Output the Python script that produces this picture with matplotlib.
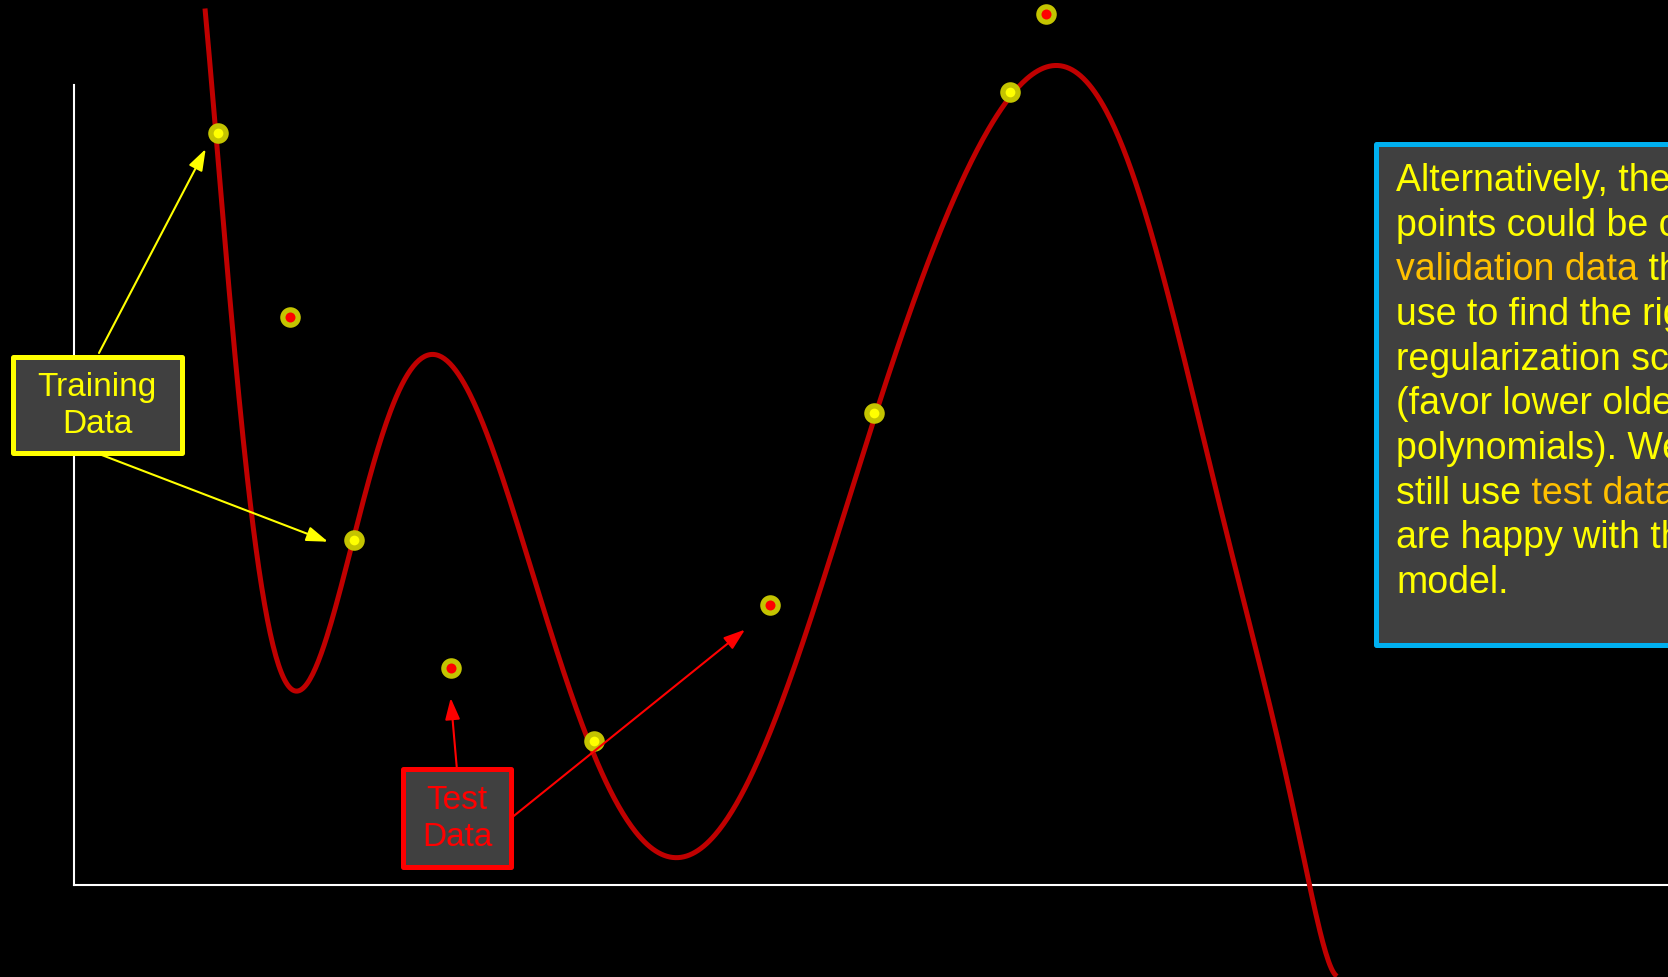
import numpy as np
import matplotlib
matplotlib.use("Agg")
import matplotlib.pyplot as plt
from matplotlib.patches import Rectangle

plt.rcParams['font.family'] = ['Liberation Sans', 'DejaVu Sans']

# training points (yellow centre) and held-out test points (red centre)
train_x = [1.44, 2.80, 5.20, 8.00, 9.36]
train_y = [7.52, 3.45, 1.44, 4.72, 7.93]
test_x = [2.16, 3.77, 6.96, 9.72]
test_y = [5.68, 2.17, 2.80, 8.71]

# points
curve_x = [1.31, 1.44, 1.51, 1.58, 1.69, 1.78, 1.88, 2.03, 2.25, 2.49, 2.63,
           2.80, 2.96, 3.16, 3.36, 3.57, 3.83, 4.09, 4.34, 4.76, 5.20, 5.59,
           6.06, 6.59, 7.26, 7.76, 8.00, 8.66, 8.99, 9.36, 9.73, 10.16, 10.49,
           10.83, 11.06, 11.33, 11.73, 12.36, 12.63]
curve_y = [8.75, 7.52, 6.10, 5.55, 4.55, 3.75, 3.02, 2.35, 1.93, 2.35, 2.88,
           3.44, 4.15, 4.72, 5.15, 5.31, 5.15, 4.55, 3.75, 2.60, 1.44, 0.60,
           0.27, 0.60, 2.60, 3.77, 4.72, 6.42, 7.25, 7.92, 8.19, 7.95, 7.28,
           6.28, 5.45, 4.45, 2.62, 0.00, -0.92]
# turning points of the curve (indices above) get more weight in the fit
turning = [8, 15, 22, 30]

# note text, one entry per line: (words, highlighted?)
note_lines = [
    [("Alternatively, these", False)],
    [("points could be called", False)],
    [("validation data", True), (" that we", False)],
    [("use to find the right", False)],
    [("regularization scheme", False)],
    [("(favor lower older", False)],
    [("polynomials). We", False)],
    [("still use", False), (" test data", True), (" once we", False)],
    [("are happy with the", False)],
    [("model.", False)],
]

YELLOW = "#FFFF00"
ORANGE = "#FFC000"
RED = "#FF0000"
BOXFILL = "#404040"

fig = plt.figure(figsize=(16.68, 9.77), dpi=100, facecolor="black")
ax = fig.add_axes([0, 0, 1, 1])
ax.set_facecolor("black")
ax.set_xlim(-0.74, 15.94)
ax.set_ylim(-0.92, 8.85)
ax.set_xticks([])
ax.set_yticks([])
for s in ["top", "right"]:
    ax.spines[s].set_visible(False)
ax.spines["left"].set_position(("data", 0))
ax.spines["bottom"].set_position(("data", 0))
ax.spines["left"].set_bounds(0, 8.0)
ax.spines["bottom"].set_bounds(0, 16.0)
for s in ["left", "bottom"]:
    ax.spines[s].set_color("white")
    ax.spines[s].set_linewidth(1.5)

# fitted curve
w = np.ones(len(curve_x))
w[turning] = 4.0
poly = np.polynomial.Polynomial.fit(curve_x, curve_y, 14, w=w)
xx = np.linspace(curve_x[0], curve_x[-1], 800)
ax.plot(xx, poly(xx), color="#C00000", lw=3.6, zorder=3, solid_capstyle="butt")

# data points
ax.plot(train_x, train_y, "o", ms=14.8, color="#C4C400", mec="none", zorder=4)
ax.plot(train_x, train_y, "o", ms=7.0, color=YELLOW, mec="none", zorder=5)
ax.plot(test_x, test_y, "o", ms=14.8, color="#C4C400", mec="none", zorder=4)
ax.plot(test_x, test_y, "o", ms=7.2, color=RED, mec="none", zorder=5)

# arrows from the labels to the points
def arrow(start, tip, color):
    ax.annotate("", xy=tip, xytext=start, zorder=6,
                arrowprops=dict(arrowstyle="-|>,head_length=1.3,head_width=0.45",
                                color=color, lw=1.5, shrinkA=0, shrinkB=0,
                                mutation_scale=10))

arrow((0.25, 5.32), (1.317, 7.36), YELLOW)
arrow((0.277, 4.30), (2.54, 3.433), YELLOW)
arrow((3.827, 1.183), (3.767, 1.87), RED)
arrow((4.39, 0.684), (6.71, 2.554), RED)

# label boxes
ax.add_patch(Rectangle((-0.615, 4.325), 1.69, 0.96, fc=BOXFILL, ec=YELLOW,
                       lw=3.6, joinstyle="round", zorder=7))
ax.text(0.23, 4.79, "Training\nData", color=YELLOW, fontsize=24,
        ha="center", va="center", linespacing=1.25, zorder=8)
ax.add_patch(Rectangle((3.292, 0.182), 1.076, 0.976, fc=BOXFILL, ec=RED,
                       lw=3.6, joinstyle="round", zorder=7))
ax.text(3.83, 0.66, "Test\nData", color=RED, fontsize=24,
        ha="center", va="center", linespacing=1.25, zorder=8)

# note box on the right
ax.add_patch(Rectangle((13.02, 2.403), 4.0, 5.004, fc=BOXFILL, ec="#00B0F0",
                       lw=3.6, joinstyle="round", zorder=7))
for i, segs in enumerate(note_lines):
    y = 6.941 - 0.447 * i
    prev = None
    for words, hi in segs:
        col = ORANGE if hi else YELLOW
        if prev is None:
            prev = ax.text(13.22, y, words, color=col, fontsize=27,
                           ha="left", va="baseline", zorder=8)
        else:
            prev = ax.annotate(words, xy=(1, 0), xycoords=prev, color=col,
                               fontsize=27, ha="left", va="bottom", zorder=8)

fig.savefig("out.png", dpi=100, facecolor="black")
